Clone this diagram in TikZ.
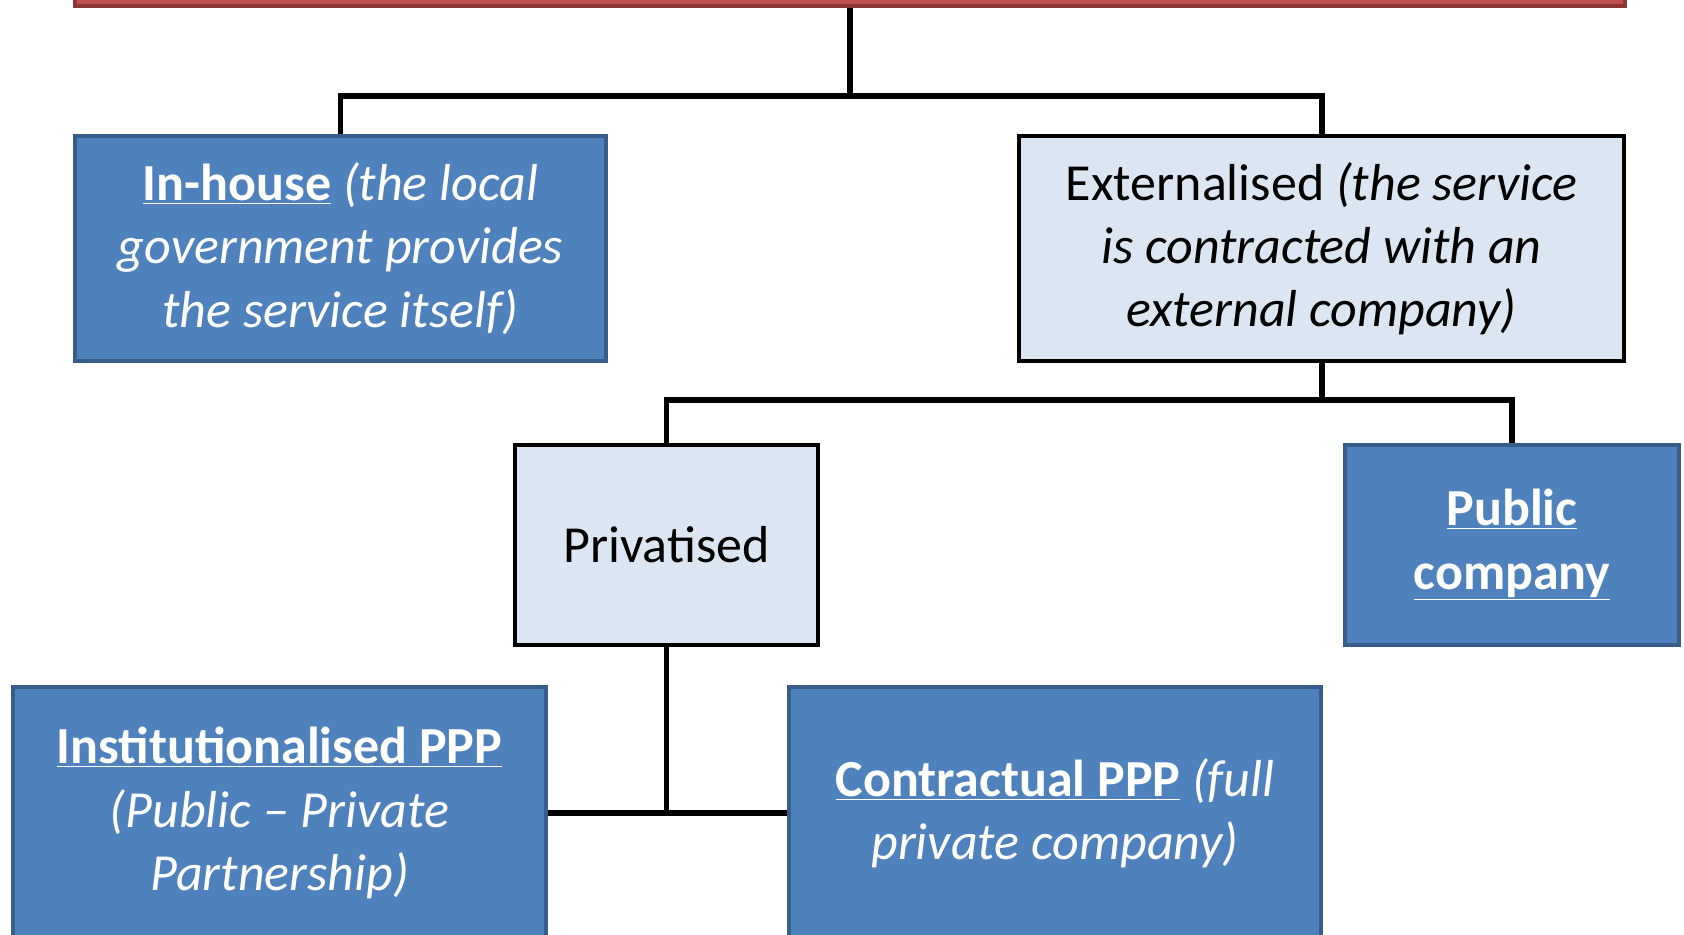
\documentclass[tikz,border=0pt]{standalone}
\usepackage{fontspec}
\setmainfont{Carlito}
\usetikzlibrary{calc,positioning}
\definecolor{boxblue}{HTML}{4F81BD}
\definecolor{boxblueline}{HTML}{385D8A}
\definecolor{boxlight}{HTML}{DCE6F2}
\definecolor{boxred}{HTML}{C0504D}
\definecolor{boxredline}{HTML}{8C3836}

\begin{document}
\begin{tikzpicture}[x=0.02cm,y=0.02cm]

     \tikzstyle{every node}=[font=\fontsize{29.6}{36}\selectfont,align=center,inner sep=0pt]
     \tikzstyle{bluebox}=[draw=boxblueline,fill=boxblue,line width=2.3pt,text=white]
     \tikzstyle{lightbox}=[draw=black,fill=boxlight,line width=2.3pt]
     \tikzstyle{link}=[line width=3.4pt]
     \useasboundingbox (0,0) rectangle (1684,934);
     \clip (0,0) rectangle (1684,934);

     \node[draw=boxredline,fill=boxred,line width=2.3pt,minimum width=31cm,minimum height=1.4cm](top) at (850,963){};
     \node[bluebox,minimum width=10.62cm,minimum height=4.5cm](inhouse) at (340.5,685.5){\underline{\textbf{In-house}} \textit{(the local}\\\textit{government provides}\\\textit{the service itself)}};
     \node at ($(inhouse)+(981,0)$)[lightbox,minimum width=12.1cm,minimum height=4.5cm](ext){Externalised \textit{(the service}\\\textit{is contracted with an}\\\textit{external company)}};
     \node at (666.5,389)[lightbox,minimum width=6.06cm,minimum height=4cm](priv){Privatised};
     \node at ($(priv)+(845.5,0)$)[bluebox,minimum width=6.68cm,minimum height=4cm](public){\underline{\textbf{Public}}\\\underline{\textbf{company}}};
     \node at (279.5,121)[bluebox,minimum width=10.66cm,minimum height=5.04cm](inst){\underline{\textbf{Institutionalised PPP}}\\\textit{(Public -- Private}\\\textit{Partnership)}};
     \node at ($(inst)+(775.5,0)$)[bluebox,minimum width=10.64cm,minimum height=5.04cm](contr){\underline{\textbf{Contractual PPP}} \textit{(full}\\\textit{private company)}};

     \coordinate (bus1) at ($(top.south)+(0,-88)$);
     \coordinate (bus2) at ($(ext.south)+(0,-37)$);
     \draw[link](top.south)--(bus1);
     \draw[link](inhouse.north)|-(bus1)-|(ext.north);
     \draw[link](ext.south)--(bus2);
     \draw[link](priv.north)|-(bus2)-|(public.north);
     \draw[link](inst.east)--(contr.west);
     \draw[link](priv.south)--(priv.south|-inst.east);

\end{tikzpicture}
\end{document}
